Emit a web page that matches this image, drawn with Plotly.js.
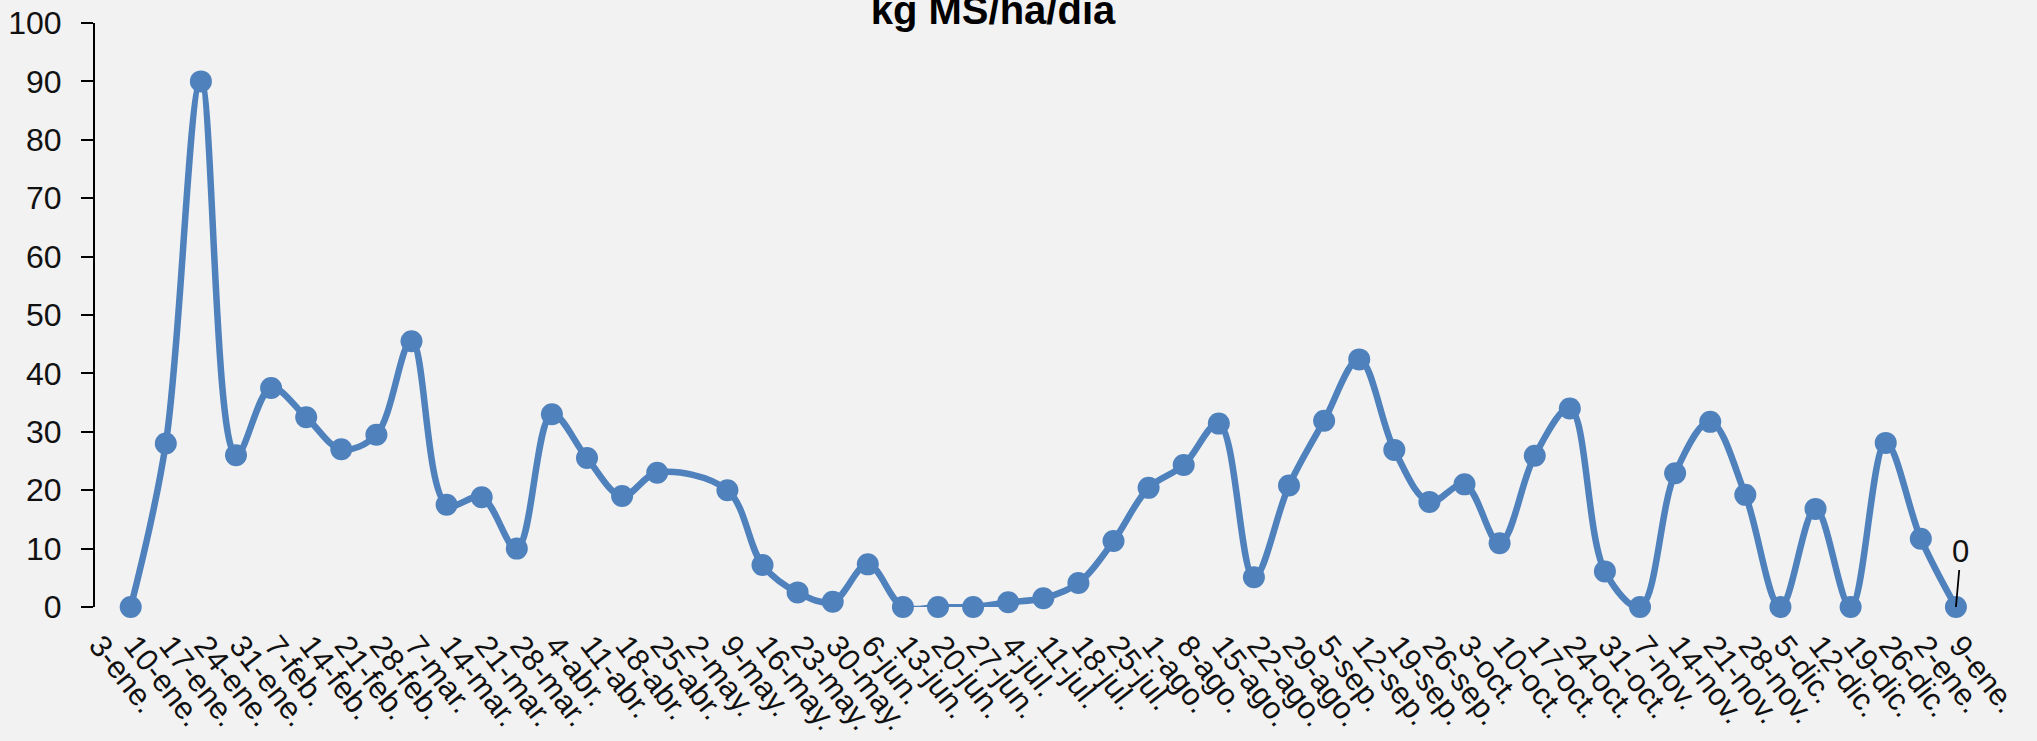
<!DOCTYPE html>
<html>
<head>
<meta charset="utf-8">
<script src="https://cdn.plot.ly/plotly-3.0.1.min.js"></script>
<style>
  html, body { margin: 0; padding: 0; background: #f2f2f2; }
  #chart { width: 2037px; height: 741px; }
</style>
</head>
<body>
<div id="chart"></div>
<script>
const chartTitle = 'kg MS/ha/día';

const categories = [
  '3-ene.', '10-ene.', '17-ene.', '24-ene.', '31-ene.',
  '7-feb.', '14-feb.', '21-feb.', '28-feb.',
  '7-mar.', '14-mar.', '21-mar.', '28-mar.',
  '4-abr.', '11-abr.', '18-abr.', '25-abr.',
  '2-may.', '9-may.', '16-may.', '23-may.', '30-may.',
  '6-jun.', '13-jun.', '20-jun.', '27-jun.',
  '4-jul.', '11-jul.', '18-jul.', '25-jul.',
  '1-ago.', '8-ago.', '15-ago.', '22-ago.', '29-ago.',
  '5-sep.', '12-sep.', '19-sep.', '26-sep.',
  '3-oct.', '10-oct.', '17-oct.', '24-oct.', '31-oct.',
  '7-nov.', '14-nov.', '21-nov.', '28-nov.',
  '5-dic.', '12-dic.', '19-dic.', '26-dic.',
  '2-ene.', '9-ene.'
];

const values = [
  0, 28, 90, 26, 37.5,
  32.5, 27, 29.5, 45.5,
  17.5, 18.8, 10, 33,
  25.5, 19, 23, null,
  20, 7.2, 2.5, 0.9, 7.3,
  0, 0, 0, 0.8,
  1.5, 4.1, 11.3, 20.4,
  24.3, 31.4, 5.1, 20.8, 31.9,
  42.4, 26.9, 18, 21,
  10.9, 25.9, 34, 6.1, 0,
  22.9, 31.7, 19.2, 0,
  16.8, 0, 28.1, 11.7,
  0, null
];

const yTicks = [0, 10, 20, 30, 40, 50, 60, 70, 80, 90, 100];

// index of the labelled point (last with data)
let labelIdx = values.length - 1;
while (labelIdx >= 0 && values[labelIdx] === null) labelIdx--;

const lineColor = '#4f81bd';
const font = 'Liberation Sans, Arial, sans-serif';

const trace = {
  type: 'scatter',
  mode: 'lines+markers',
  x: categories,
  y: values,
  connectgaps: true,
  line: { color: lineColor, width: 6.5, shape: 'spline', smoothing: 1 },
  marker: { color: lineColor, size: 22 },
  cliponaxis: false,
  hoverinfo: 'x+y'
};

const layout = {
  width: 2037,
  height: 741,
  paper_bgcolor: '#f2f2f2',
  plot_bgcolor: '#f2f2f2',
  margin: { l: 95, r: 20, t: 23, b: 134 },
  showlegend: false,
  title: {
    text: chartTitle,
    font: { family: font, size: 40, color: '#000000', weight: 'bold' },
    x: 993 / 2037,
    xanchor: 'center',
    xref: 'container',
    yref: 'container',
    y: 1 - 10 / 741,
    yanchor: 'middle'
  },
  xaxis: {
    type: 'category',
    categoryorder: 'array',
    categoryarray: categories,
    range: [-1.017, 53.74],
    tickvals: categories,
    ticktext: categories,
    tickangle: 52,
    ticklabelshift: -31,
    ticklabelstandoff: 13,
    tickfont: { family: font, size: 31, color: '#111111' },
    showline: false,
    showgrid: false,
    zeroline: false,
    ticks: '',
    automargin: false,
    fixedrange: true
  },
  yaxis: {
    range: [0, 100],
    tickvals: yTicks,
    ticktext: yTicks.map(String),
    tickfont: { family: font, size: 32, color: '#111111' },
    showline: true,
    linecolor: '#000000',
    linewidth: 2,
    ticks: 'outside',
    ticklen: 12,
    tickwidth: 2,
    tickcolor: '#000000',
    ticklabelstandoff: 13,
    showgrid: false,
    zeroline: false,
    automargin: false,
    fixedrange: true
  },
  annotations: [
    {
      x: categories[labelIdx],
      y: values[labelIdx],
      xref: 'x',
      yref: 'y',
      text: String(values[labelIdx]),
      showarrow: true,
      arrowhead: 0,
      arrowwidth: 1.8,
      arrowcolor: '#000000',
      standoff: 0,
      ax: 5,
      ay: -56,
      font: { family: font, size: 31, color: '#111111' }
    }
  ]
};

Plotly.newPlot('chart', [trace], layout, { displayModeBar: false, staticPlot: true });
</script>
</body>
</html>
